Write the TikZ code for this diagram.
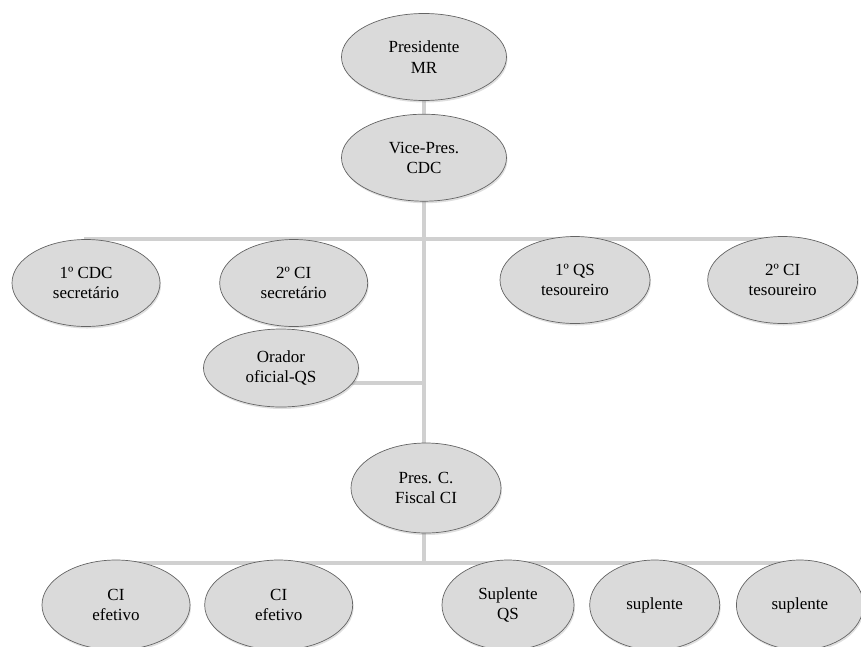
\documentclass[tikz,border=0pt]{standalone}
\usepackage{fontspec}
\setmainfont{Liberation Serif}
\usepackage{tikz}
\usetikzlibrary{positioning}
\usetikzlibrary{shapes.geometric}
\usetikzlibrary{shadows}
\usetikzlibrary{backgrounds}

\definecolor{rolefill}{RGB}{218,218,218}
\definecolor{roleline}{RGB}{100,100,100}
\definecolor{linkgray}{RGB}{208,208,208}

\tikzset{
  officer/.style={ellipse, draw=roleline, line width=0.7pt, fill=rolefill,
    inner sep=0pt, align=center, minimum width=148pt, minimum height=87pt,
    font=\fontsize{17}{20.5}\selectfont,
    drop shadow={opacity=0.25, shadow xshift=1pt, shadow yshift=-2pt}},
  link/.style={draw=linkgray, line width=3.2pt}
}

\begin{document}
\begin{tikzpicture}[x=1pt, y=1pt]

  \useasboundingbox (-424,57) rectangle (437,-589);

  % Define nodes
  \node[officer, minimum width=165pt] (pres) at (0,0) {Presidente\\MR};
  \node[officer, minimum width=165pt, below=13pt of pres] (vice) {Vice-Pres.\\CDC};
  \node[officer] (sec1) at (-338,-226) {1º CDC\\secretário};
  \node[officer, right=59pt of sec1] (sec2) {2º CI\\secretário};
  \node[officer, minimum width=150pt] (tes1) at (151,-223) {1º QS\\tesoureiro};
  \node[officer, minimum width=150pt, right=57pt of tes1] (tes2) {2º CI\\tesoureiro};
  \node[officer, minimum width=155pt, minimum height=78pt] (orador) at (-143,-311) {Orador\\oficial-QS};
  \node[officer, minimum width=150pt, minimum height=90pt] (fiscal) at (2,-431) {Pres. C.\\Fiscal CI};
  \node[officer, minimum height=90pt] (ci1) at (-308,-548) {CI\\efetivo};
  \node[officer, minimum height=90pt, right=14pt of ci1] (ci2) {CI\\efetivo};
  \node[officer, minimum width=132pt, minimum height=90pt] (sup1) at (84,-548) {Suplente\\QS};
  \node[officer, minimum width=130pt, minimum height=90pt, right=15pt of sup1] (sup2) {suplente};
  \node[officer, minimum width=127pt, minimum height=90pt, right=16pt of sup2] (sup3) {suplente};

  \coordinate (j1) at (0,-182);
  \coordinate (j2) at (0,-326);
  \coordinate (j3) at (0,-506);

  % Connect the nodes
  \begin{scope}[on background layer]
    \draw[link] (pres) -- (j3);
    \draw[link] (sec1) |- (j1) -| (tes2);
    \draw[link] (sec2) -- (sec2 |- j1);
    \draw[link] (tes1) -- (tes1 |- j1);
    \draw[link] (orador) |- (j2);
    \draw[link] (ci1) |- (j3) -| (sup3);
    \draw[link] (ci2) -- (ci2 |- j3);
    \draw[link] (sup1) -- (sup1 |- j3);
    \draw[link] (sup2) -- (sup2 |- j3);
  \end{scope}

\end{tikzpicture}
\end{document}
